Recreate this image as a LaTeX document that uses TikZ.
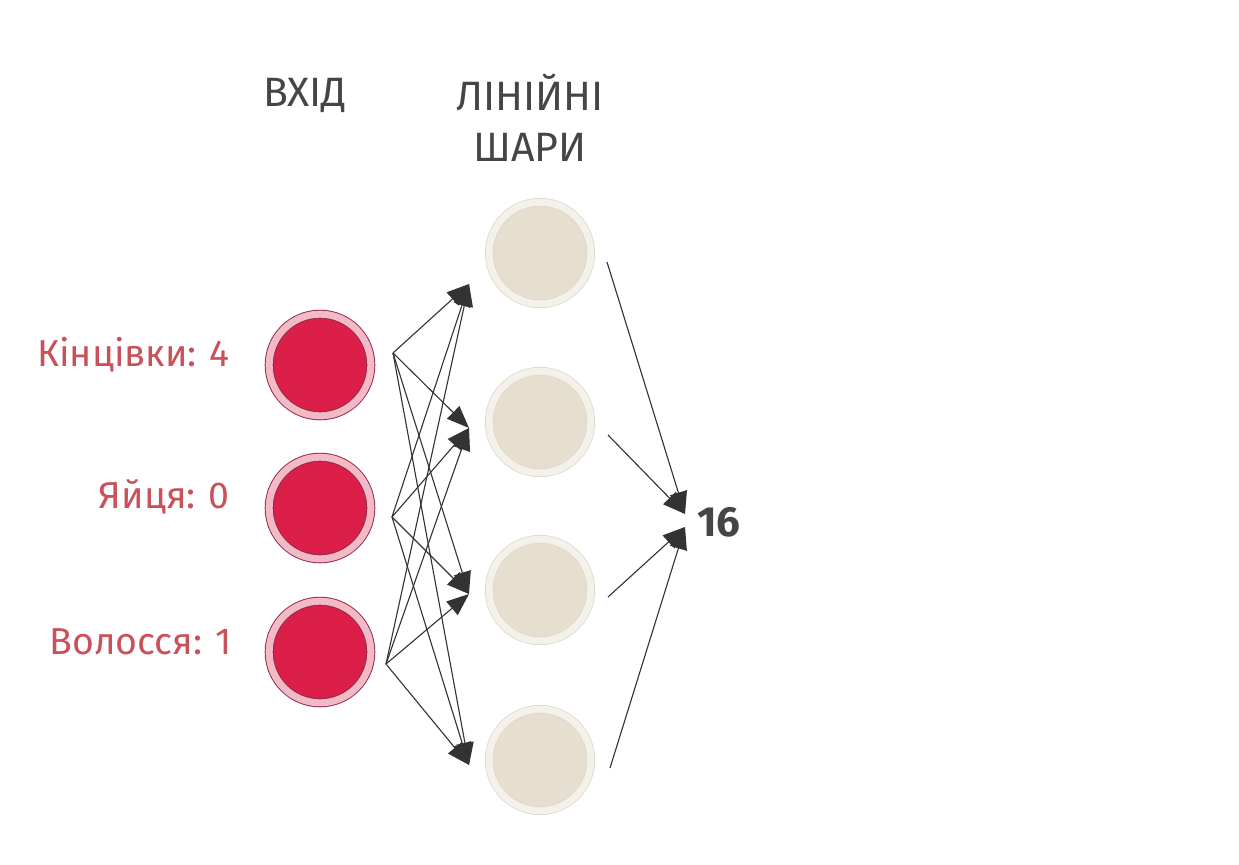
\documentclass[tikz,border=0pt]{standalone}
\usepackage{fontspec}
\setmainfont{Fira Sans}
\usetikzlibrary{arrows.meta}
\definecolor{inred}{HTML}{DC1F48}
\definecolor{inring}{HTML}{F3B9C6}
\definecolor{inedge}{HTML}{8E2A45}
\definecolor{hidfill}{HTML}{E6DFCF}
\definecolor{hidring}{HTML}{F4F1EA}
\definecolor{hidedge}{HTML}{DCD6C8}
\definecolor{labred}{HTML}{C9515A}
\definecolor{headgray}{HTML}{454545}
\begin{document}
\begin{tikzpicture}[x=0.03cm,y=-0.03cm]
	\tikzset{innode/.style = {shape=circle, draw=inedge, line width=0.8pt, double=inring, double distance=6pt, fill=inred, minimum size=3.05cm, inner sep=0pt},
		hidnode/.style = {shape=circle, draw=hidedge, line width=0.6pt, double=hidring, double distance=6pt, fill=hidfill, minimum size=3.05cm, inner sep=0pt},
		feat/.style = {text=labred, font=\fontsize{32}{36}\selectfont, anchor=east},
		head/.style = {text=headgray, font=\fontsize{35}{44}\selectfont, align=center},
		link/.style = {line width=0.95pt, -{Triangle[length=19pt,width=15pt]}, color=black!80}}
	\useasboundingbox (0,0) rectangle (1239,864);

	\node[head] (h_in) at (305,95) {ВХІД};
	\node[head] (h_lin) at (530,118) {ЛІНІЙНІ\\ШАРИ};

	\node[innode] (I_1) at (320,365) {};
	\node[innode] (I_2) at (320,508) {};
	\node[innode] (I_3) at (320,652) {};

	\node[hidnode] (H_1) at (540,253) {};
	\node[hidnode] (H_2) at (540,422) {};
	\node[hidnode] (H_3) at (540,590) {};
	\node[hidnode] (H_4) at (540,760) {};

	\node[feat] (F_1) at (234,355) {Кінцівки: 4};
	\node[feat] (F_2) at (234,497) {Яйця: 0};
	\node[feat] (F_3) at (236,642) {Волосся: 1};

	\node[text=headgray, font=\fontsize{36}{40}\selectfont\bfseries] (out) at (719,522) {16};

	\coordinate (S_1) at (393,353);
	\coordinate (S_2) at (392,517);
	\coordinate (S_3) at (386,664);
	\coordinate (T_1) at (469,284);
	\coordinate (T_2) at (469,428);
	\coordinate (T_3) at (469,594);
	\coordinate (T_4) at (469,765);
	\coordinate (R_1) at (607,262);
	\coordinate (R_2) at (608,435);
	\coordinate (R_3) at (608,597);
	\coordinate (R_4) at (610,768);
	\coordinate (O_1) at (685,514);
	\coordinate (O_2) at (685,527);

	\draw[link] (S_1)--(T_1);
	\draw[link] (S_1)--(T_2);
	\draw[link] (S_1)--(T_3);
	\draw[link] (S_1)--(T_4);
	\draw[link] (S_2)--(T_1);
	\draw[link] (S_2)--(T_2);
	\draw[link] (S_2)--(T_3);
	\draw[link] (S_2)--(T_4);
	\draw[link] (S_3)--(T_1);
	\draw[link] (S_3)--(T_2);
	\draw[link] (S_3)--(T_3);
	\draw[link] (S_3)--(T_4);

	\draw[link] (R_1)--(O_1);
	\draw[link] (R_2)--(O_1);
	\draw[link] (R_3)--(O_2);
	\draw[link] (R_4)--(O_2);

\end{tikzpicture}
\end{document}
